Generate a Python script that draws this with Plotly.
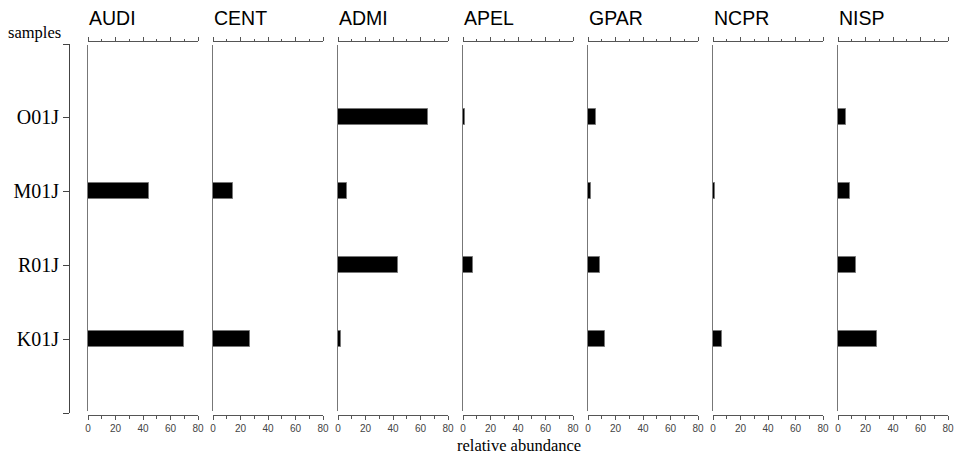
import plotly.graph_objects as go

# ---- data ----
samples = ["O01J", "M01J", "R01J", "K01J"]
taxa = ["AUDI", "CENT", "ADMI", "APEL", "GPAR", "NCPR", "NISP"]
audi = [None, 44.5, None, 70.0]
cent = [None, 14.5, None, 27.0]
admi = [65.5, 6.5, 43.5, 2.5]
apel = [1.7, None, 7.0, None]
gpar = [6.0, 2.2, 9.0, 12.0]
ncpr = [None, 1.5, None, 6.3]
nisp = [5.8, 8.7, 12.9, 28.6]
series = [audi, cent, admi, apel, gpar, ncpr, nisp]
x_ticks = [0, 20, 40, 60, 80]
x_range = [0, 80]

W, H = 961, 455
SERIF = "Liberation Serif, Times New Roman, serif"
SANS = "Liberation Sans, Arial, sans-serif"

def py(p):  # pixel row -> paper y
    return 1 - p / H

def px(p):  # pixel column -> paper x
    return p / W

# vertical mapping: category index v sits at pixel 117 + 74*v
def pix_to_val(p):
    return (p - 117) / 74.0

fig = go.Figure()
layout = dict(
    width=W, height=H, margin=dict(l=0, r=0, t=0, b=0, pad=0, autoexpand=False),
    autosize=False,
    paper_bgcolor="white", plot_bgcolor="rgba(0,0,0,0)",
    showlegend=False, bargap=0,
)

# left sample axis (linear index axis)
n = len(samples)
left_top, left_bot = 44, 413
layout["xaxis"] = dict(domain=[0, 1], visible=False, range=[0, 1], automargin=False)
layout["yaxis"] = dict(
    domain=[py(left_bot), py(left_top)],
    range=[pix_to_val(left_bot), pix_to_val(left_top)],
    anchor="free", position=px(69), side="left", automargin=False,
    showline=True, linecolor="#444", linewidth=1,
    ticks="outside", ticklen=6, tickcolor="#444", tickwidth=1,
    tickmode="array",
    tickvals=[pix_to_val(left_top)] + list(range(n)) + [pix_to_val(left_bot)],
    ticktext=[""] + samples + [""],
    tickfont=dict(family=SERIF, size=20, color="black"),
    showgrid=False, zeroline=False, fixedrange=True,
)
fig.add_trace(go.Scatter(x=[0.5] * n, y=list(range(n)), mode="markers",
                         marker=dict(opacity=0), hoverinfo="skip",
                         xaxis="x", yaxis="y"))

panel_top, panel_bot = 45, 411
for i, (name, vals) in enumerate(zip(taxa, series)):
    L = 88 + 125 * i
    dom = [px(L), px(L + 110)]
    xb = 2 + i          # bottom axis
    xt = 9 + i          # top axis
    yi = 2 + i
    layout[f"xaxis{xb}"] = dict(
        domain=dom, range=x_range, anchor="free", position=py(415), side="bottom",
        automargin=False,
        showline=True, linecolor="#555", linewidth=1,
        ticks="outside", ticklen=4, tickcolor="#555", tickwidth=1,
        tickmode="array", tickvals=x_ticks,
        minor=dict(ticks="outside", dtick=10, ticklen=2.5, tickcolor="#555", tickwidth=1, showgrid=False),
        tickfont=dict(family=SANS, size=10, color="#444"),
        showgrid=False, zeroline=False, fixedrange=True,
    )
    layout[f"xaxis{xt}"] = dict(
        domain=dom, range=x_range, anchor="free", position=py(41), side="top",
        overlaying=f"x{xb}", automargin=False,
        showline=True, linecolor="#555", linewidth=1,
        ticks="outside", ticklen=4, tickcolor="#555", tickwidth=1,
        tickmode="array", tickvals=x_ticks, showticklabels=False,
        minor=dict(ticks="outside", dtick=10, ticklen=2.5, tickcolor="#555", tickwidth=1, showgrid=False),
        showgrid=False, zeroline=False, fixedrange=True,
    )
    layout[f"yaxis{yi}"] = dict(
        domain=[py(panel_bot), py(panel_top)],
        range=[pix_to_val(panel_bot), pix_to_val(panel_top)],
        type="category", categoryorder="array", categoryarray=samples,
        anchor=f"x{xb}", automargin=False,
        showline=True, linecolor="#777", linewidth=1,
        showticklabels=False, ticks="", showgrid=False, zeroline=False, fixedrange=True,
    )
    fig.add_trace(go.Bar(
        x=vals, y=samples, orientation="h", width=0.22,
        marker=dict(color="black", line=dict(color="#777", width=1)),
        xaxis=f"x{xb}", yaxis=f"y{yi}", hoverinfo="x+y",
    ))
    fig.add_trace(go.Scatter(x=[0], y=[samples[0]], mode="markers",
                             marker=dict(opacity=0), hoverinfo="skip",
                             xaxis=f"x{xt}", yaxis=f"y{yi}"))
    fig.add_annotation(text=name, xref="paper", yref="paper",
                       x=px(L - 1), y=py(18), xanchor="left", yanchor="middle",
                       showarrow=False, font=dict(family=SANS, size=19.5, color="black"))

fig.add_annotation(text="samples", xref="paper", yref="paper",
                   x=px(34), y=py(33), xanchor="center", yanchor="middle",
                   showarrow=False, font=dict(family=SERIF, size=16.5, color="black"))
fig.add_annotation(text="relative abundance", xref="paper", yref="paper",
                   x=px(519), y=py(445), xanchor="center", yanchor="middle",
                   showarrow=False, font=dict(family=SERIF, size=16.5, color="black"))

fig.update_layout(**layout)
fig.write_html("out.html", config={"displayModeBar": False, "responsive": False},
               post_script="document.body.style.margin='0px';document.body.style.overflow='hidden';")
